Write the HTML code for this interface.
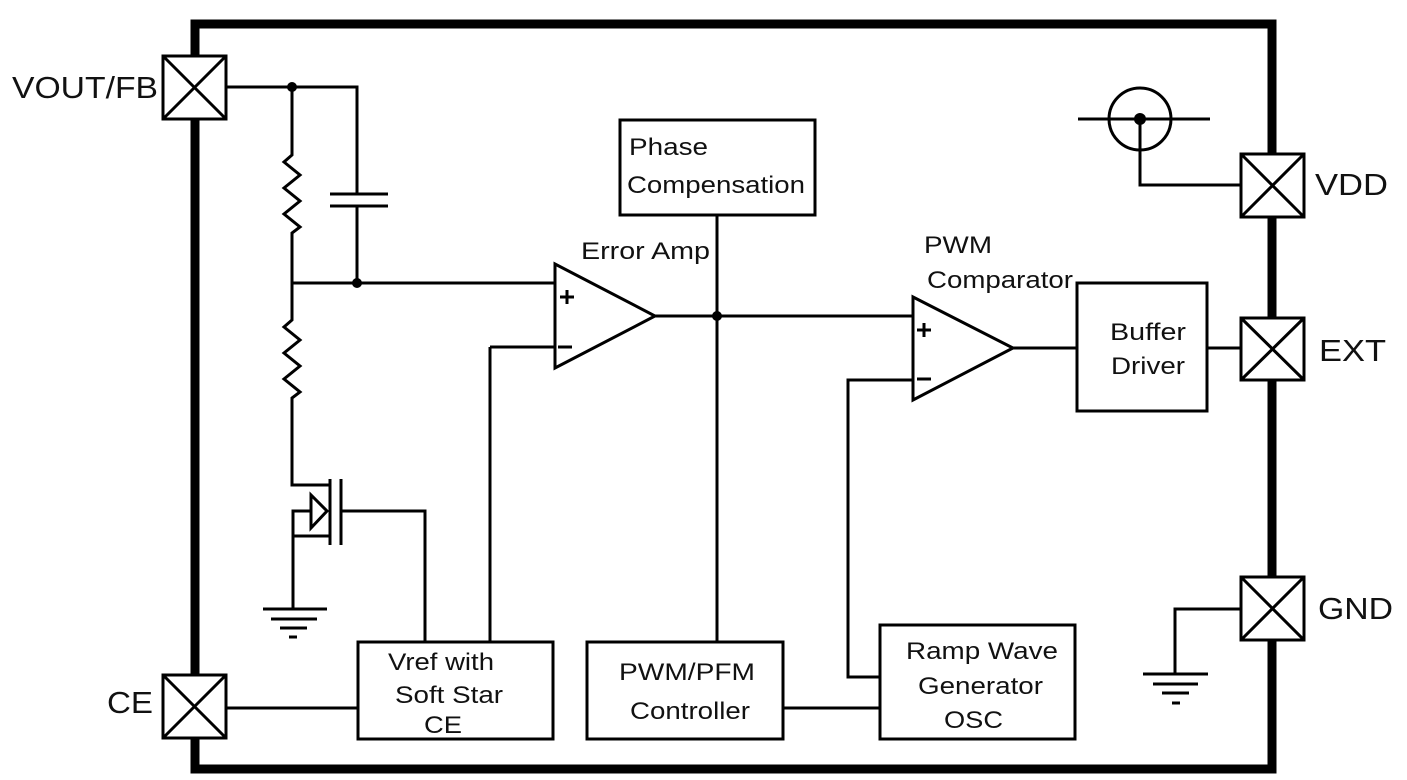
<!DOCTYPE html>
<html><head><style>
html,body{margin:0;padding:0;background:#fff;width:1407px;height:780px;overflow:hidden}
svg text{font-family:"Liberation Sans",Arial,sans-serif;fill:#111}
</style></head><body>
<svg width="1407" height="780" viewBox="0 0 1407 780" xmlns="http://www.w3.org/2000/svg">
<g fill="none" stroke="#000">
<rect x="195" y="24" width="1077" height="745" stroke-width="9"/>
<g stroke-width="3">
<g fill="#fff">
<rect x="163" y="56" width="63" height="63"/>
<rect x="163" y="675" width="63" height="63"/>
<rect x="1241" y="154" width="63" height="63"/>
<rect x="1241" y="318" width="63" height="62"/>
<rect x="1241" y="577" width="63" height="63"/>
</g>
<path d="M163 56L226 119M226 56L163 119M163 675L226 738M226 675L163 738M1241 154L1304 217M1304 154L1241 217M1241 318L1304 380M1304 318L1241 380M1241 577L1304 640M1304 577L1241 640"/>
<path d="M226 87H357V194M357 206V283"/>
<path d="M330 194H388M330 206H388"/>
<path d="M292 87V155L284 162L300 175L284 188L300 201L284 214L300 227L292 233V320L284 327L300 340L284 353L300 366L284 379L300 392L292 398V485H330"/>
<path d="M292 283H555"/>
<path d="M330 479V545M341 479V545M341 511H425V642"/>
<path d="M330 536H293V511H311M293 536V609"/>
<path d="M311 495V528L327 511Z"/>
<path d="M263 609H327M271 619H317M280 628H307M289 637H297"/>
<path d="M555 264V368L655 316Z" fill="#fff"/>
<path d="M560 297H574M567 290V304M558 347H572"/>
<path d="M490 347H555M490 347V642"/>
<path d="M655 316H913"/>
<path d="M717 215V642"/>
<path d="M913 297V400L1013 348Z" fill="#fff"/>
<path d="M917 330H931M924 323V337M917 379H931"/>
<path d="M913 380H848V677H880"/>
<path d="M1013 348H1077M1207 348H1241"/>
<rect x="620" y="120" width="195" height="95"/>
<rect x="1077" y="283" width="130" height="128"/>
<rect x="358" y="642" width="195" height="97"/>
<rect x="587" y="642" width="196" height="97"/>
<rect x="880" y="625" width="195" height="114"/>
<path d="M226 708H358M783 708H880"/>
<circle cx="1140" cy="119" r="31"/>
<path d="M1078 119H1210M1140 119V185H1241"/>
<path d="M1241 609H1175V674M1143 674H1208M1153 684H1198M1162 693H1189M1172 703H1180"/>
</g>
</g>
<g fill="#000">
<circle cx="292" cy="87" r="5"/><circle cx="357" cy="283" r="5"/>
<circle cx="717" cy="316" r="5"/><circle cx="1140" cy="119" r="6"/>
</g>
<g font-size="31" lengthAdjust="spacingAndGlyphs">
<text x="12" y="98" textLength="146" lengthAdjust="spacingAndGlyphs">VOUT/FB</text>
<text x="107" y="713" textLength="46" lengthAdjust="spacingAndGlyphs">CE</text>
<text x="1315" y="195" textLength="73" lengthAdjust="spacingAndGlyphs">VDD</text>
<text x="1319" y="361" textLength="67" lengthAdjust="spacingAndGlyphs">EXT</text>
<text x="1318" y="619" textLength="75" lengthAdjust="spacingAndGlyphs">GND</text>
</g>
<g font-size="24">
<text x="629" y="155" textLength="79" lengthAdjust="spacingAndGlyphs">Phase</text>
<text x="627" y="193" textLength="178" lengthAdjust="spacingAndGlyphs">Compensation</text>
<text x="581" y="259" textLength="129" lengthAdjust="spacingAndGlyphs">Error  Amp</text>
<text x="924" y="253" textLength="68" lengthAdjust="spacingAndGlyphs">PWM</text>
<text x="927" y="288" textLength="146" lengthAdjust="spacingAndGlyphs">Comparator</text>
<text x="1110" y="340" textLength="76" lengthAdjust="spacingAndGlyphs">Buffer</text>
<text x="1111" y="374" textLength="74" lengthAdjust="spacingAndGlyphs">Driver</text>
<text x="388" y="670" textLength="106" lengthAdjust="spacingAndGlyphs">Vref with</text>
<text x="395" y="703" textLength="108" lengthAdjust="spacingAndGlyphs">Soft Star</text>
<text x="424" y="733" textLength="38" lengthAdjust="spacingAndGlyphs">CE</text>
<text x="619" y="680" textLength="136" lengthAdjust="spacingAndGlyphs">PWM/PFM</text>
<text x="630" y="719" textLength="120" lengthAdjust="spacingAndGlyphs">Controller</text>
<text x="906" y="659" textLength="152" lengthAdjust="spacingAndGlyphs">Ramp Wave</text>
<text x="918" y="694" textLength="125" lengthAdjust="spacingAndGlyphs">Generator</text>
<text x="944" y="728" textLength="59" lengthAdjust="spacingAndGlyphs">OSC</text>
</g>
</svg>
</body></html>
